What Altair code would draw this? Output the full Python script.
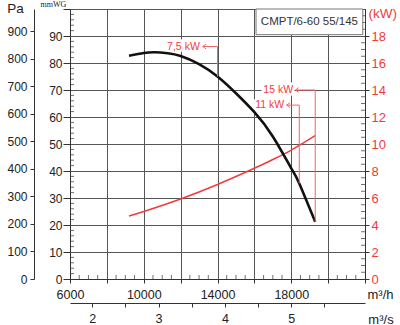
import altair as alt
import pandas as pd

# ---------------- data ----------------
flow_pressure = [9200, 10000, 10600, 11300, 12000, 13000, 14000, 15000, 16000, 17000, 18000, 18435, 19300]
pressure_mmwg = [82.7, 83.7, 84.0, 83.6, 82.6, 79.6, 75.0, 68.8, 61.8, 52.8, 41.0, 35.4, 21.2]

flow_power = [9200, 10000, 12000, 14000, 16000, 17000, 18000, 19300]
power_kw = [4.66, 5.0, 5.93, 7.0, 8.2, 8.85, 9.55, 10.62]

marker_labels = ["7,5 kW", "11 kW", "15 kW"]
marker_flow = [14000, 18435, 19300]
marker_top_mmwg = [86.1, 64.4, 70.0]
marker_curve_mmwg = [75.0, 35.4, 21.2]
marker_tip_flow = [13200, 17750, 18230]
marker_text_flow = [13040, 17620, 18100]

model_name = ["CMPT/6-60 55/145"]
box_flow = [16090, 21880]
box_mmwg = [90.5, 100.0]

flow_ticks = list(range(6000, 22001, 2000))
flow_minor = [v for v in range(6500, 22000, 500) if v % 2000]
mmwg_ticks = list(range(0, 101, 10))
mmwg_minor = [v for v in range(2, 100, 2) if v % 10]
pa_ticks = list(range(0, 901, 100))
kw_ticks = list(range(0, 19, 2))
kw_minor = [v / 2 for v in range(1, 40) if v % 4]
m3s_ticks = [2, 2.5, 3, 3.5, 4, 4.5, 5, 5.5]

# ---------------- styling ----------------
FONT = "Liberation Sans"
RED = "#f23a3a"
LRED = "#f36464"
DARK = "#333333"

FLOW = alt.Scale(domain=[6000, 22000], nice=False, zero=False)
MMWG = alt.Scale(domain=[0, 100], nice=False, zero=False)
KW = alt.Scale(domain=[0, 20], nice=False, zero=False)
PA = alt.Scale(domain=[0, 980.665], nice=False, zero=False)
M3S = alt.Scale(domain=[6000 / 3600, 22000 / 3600], nice=False, zero=False)


def xf(field="flow:Q"):
    return alt.X(field, scale=FLOW, axis=None)


def ym(field="mmwg:Q"):
    return alt.Y(field, scale=MMWG, axis=None)


# ---------------- axes layers ----------------
x_axis = alt.Chart(pd.DataFrame({"flow": flow_ticks})).mark_point(opacity=0).encode(
    x=alt.X("flow:Q", scale=FLOW, axis=alt.Axis(
        orient="bottom", values=flow_ticks, grid=True, tickSize=4, labelPadding=5,
        labelExpr="(datum.value % 4000 == 2000 && datum.value < 20000) ? format(datum.value, 'd') : ''",
        labelFontSize=12.5, title="m³/h", titleFontSize=13, titleAngle=0,
        titleX=310, titleY=15, titleAlign="center", titleBaseline="middle")),
    y=alt.Y(datum=0, scale=MMWG, axis=None),
)

y_axis = alt.Chart(pd.DataFrame({"mmwg": mmwg_ticks})).mark_point(opacity=0).encode(
    x=alt.X(datum=6000, scale=FLOW, axis=None),
    y=alt.Y("mmwg:Q", scale=MMWG, axis=alt.Axis(
        orient="left", values=mmwg_ticks, grid=True, tickSize=7, labelPadding=1,
        labelExpr="datum.value < 100 ? datum.label : ''", labelFontSize=12,
        title="mmWG", titleFont="Liberation Sans Narrow", titleFontSize=8, titleAngle=0,
        titleX=-17, titleY=-5, titleAlign="center", titleBaseline="middle")),
)

pa_axis = alt.Chart(pd.DataFrame({"pa": pa_ticks})).mark_point(opacity=0).encode(
    x=alt.X(datum=6000, scale=FLOW, axis=None),
    y=alt.Y("pa:Q", scale=PA, axis=alt.Axis(
        orient="left", offset=36, values=pa_ticks, grid=False, tickSize=4, labelPadding=3,
        labelFontSize=12, title="Pa", titleFontSize=13.5, titleAngle=0,
        titleX=-19, titleY=-1, titleAlign="center", titleBaseline="middle")),
)

kw_axis = alt.Chart(pd.DataFrame({"kw": kw_ticks})).mark_point(opacity=0).encode(
    x=alt.X(datum=22000, scale=FLOW, axis=None),
    y=alt.Y("kw:Q", scale=KW, axis=alt.Axis(
        orient="right", values=kw_ticks, grid=False, tickSize=4, labelPadding=2,
        labelFontSize=13, labelColor=RED, title="(kW)", titleColor=RED,
        titleFontSize=13.5, titleAngle=0, titleX=3, titleY=4,
        titleAlign="left", titleBaseline="middle")),
)

m3s_axis = alt.Chart(pd.DataFrame({"m3s": m3s_ticks})).mark_point(opacity=0).encode(
    x=alt.X("m3s:Q", scale=M3S, axis=alt.Axis(
        orient="bottom", offset=24, values=m3s_ticks, grid=False, tickSize=4, labelPadding=5,
        labelExpr="datum.value % 1 == 0 ? format(datum.value, 'd') : ''",
        labelFontSize=12.5, title="m³/s", titleFontSize=13, titleAngle=0,
        titleX=310.5, titleY=16, titleAlign="center", titleBaseline="middle")),
    y=alt.Y(datum=0, scale=MMWG, axis=None),
)

# ---------------- minor ticks ----------------
minor_x = alt.Chart(pd.DataFrame({"flow": flow_minor})).mark_tick(
    orient="vertical", size=4, thickness=1, color=DARK, yOffset=-2).encode(
    x=xf(), y=alt.Y(datum=0, scale=MMWG, axis=None))

minor_y = alt.Chart(pd.DataFrame({"mmwg": mmwg_minor})).mark_tick(
    orient="horizontal", size=4, thickness=1, color=DARK, xOffset=2).encode(
    x=alt.X(datum=6000, scale=FLOW, axis=None), y=ym())

minor_kw = alt.Chart(pd.DataFrame({"kw": kw_minor})).mark_tick(
    orient="horizontal", size=4, thickness=1, color=DARK, xOffset=-2).encode(
    x=alt.X(datum=22000, scale=FLOW, axis=None), y=alt.Y("kw:Q", scale=KW, axis=None))

# ---------------- model box ----------------
box_df = pd.DataFrame({"name": model_name, "x1": [box_flow[0]], "x2": [box_flow[1]],
                       "y1": [box_mmwg[0]], "y2": [box_mmwg[1]]})
box = alt.Chart(box_df).mark_rect(fill="white", stroke="#777", strokeWidth=1).encode(
    x=alt.X("x1:Q", scale=FLOW, axis=None), x2="x2:Q",
    y=alt.Y("y1:Q", scale=MMWG, axis=None), y2="y2:Q")
box_text = alt.Chart(box_df).transform_calculate(
    cx="(datum.x1 + datum.x2) / 2", cy="(datum.y1 + datum.y2) / 2"
).mark_text(font=FONT, fontSize=11.5, color="#333", align="center", baseline="middle").encode(
    x=alt.X("cx:Q", scale=FLOW, axis=None), y=alt.Y("cy:Q", scale=MMWG, axis=None), text="name:N")

# ---------------- curves ----------------
pressure = alt.Chart(pd.DataFrame({"flow": flow_pressure, "mmwg": pressure_mmwg})).mark_line(
    color="#111", strokeWidth=2.6, interpolate="natural").encode(x=xf(), y=ym())

power = alt.Chart(pd.DataFrame({"flow": flow_power, "kw": power_kw})).mark_line(
    color=RED, strokeWidth=1.5, interpolate="natural").encode(
    x=xf(), y=alt.Y("kw:Q", scale=KW, axis=None))

# ---------------- motor markers ----------------
rows = []
for i, lab in enumerate(marker_labels):
    rows += [
        dict(m=lab, o=0, flow=marker_tip_flow[i], mmwg=marker_top_mmwg[i]),
        dict(m=lab, o=1, flow=marker_flow[i], mmwg=marker_top_mmwg[i]),
        dict(m=lab, o=2, flow=marker_flow[i], mmwg=marker_curve_mmwg[i]),
    ]
marker_lines = alt.Chart(pd.DataFrame(rows)).mark_line(color=LRED, strokeWidth=1).encode(
    x=xf(), y=ym(), detail="m:N", order="o:Q")

mk_df = pd.DataFrame({"m": marker_labels, "tip": marker_tip_flow, "tx": marker_text_flow,
                      "mmwg": marker_top_mmwg})
arrows = alt.Chart(mk_df).mark_point(
    shape="M 1.4 -1 L 0 0 L 1.4 1", filled=False, size=22, color=LRED, strokeWidth=1, opacity=1
).encode(x=xf("tip:Q"), y=ym())
marker_halo = alt.Chart(mk_df).mark_text(
    font=FONT, fontSize=10.5, color="white", stroke="white", strokeWidth=5,
    align="right", baseline="middle").encode(x=xf("tx:Q"), y=ym(), text="m:N")
marker_text = alt.Chart(mk_df).mark_text(
    font=FONT, fontSize=10.5, color=RED, align="right", baseline="middle").encode(
    x=xf("tx:Q"), y=ym(), text="m:N")

chart = alt.layer(
    x_axis, y_axis, pa_axis, kw_axis, m3s_axis,
    minor_x, minor_y, minor_kw,
    box, box_text, marker_halo,
    power, pressure, marker_lines, arrows, marker_text,
).resolve_scale(x="independent", y="independent").properties(
    width=295, height=270,
    autosize=alt.AutoSizeParams(type="none"),
    padding={"left": 70, "top": 9, "right": 35, "bottom": 46},
    background="white",
).configure_view(stroke=DARK, strokeWidth=1).configure_axis(
    labelFont=FONT, titleFont=FONT, labelColor="#222", titleColor="#222",
    domainColor=DARK, tickColor=DARK, gridColor="#555", gridWidth=1,
    titleFontWeight="normal", labelFlush=False, labelOverlap=False, titlePadding=0,
)

chart.save("out.html", embed_options={"renderer": "svg", "actions": False})
